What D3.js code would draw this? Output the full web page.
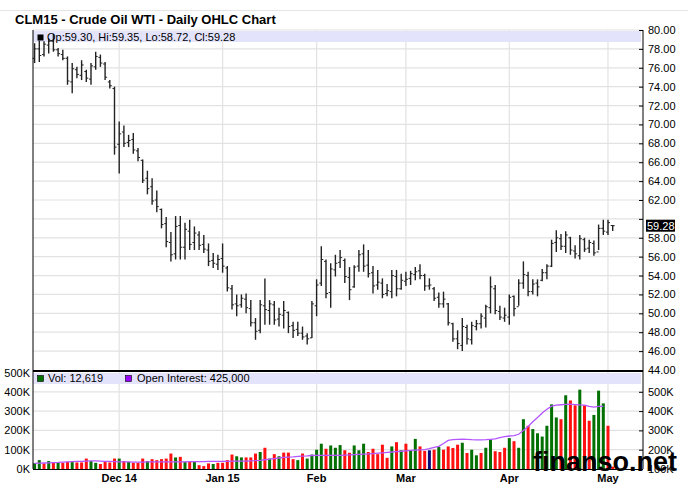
<!DOCTYPE html>
<html>
<head>
<meta charset="utf-8">
<script src="https://d3js.org/d3.v7.min.js"></script>
<style>
  body { margin: 0; background: #fff; }
  text { font-family: "Liberation Sans", Arial, sans-serif; }
</style>
</head>
<body>
<div id="graph"></div>
<script>

// daily bars, index 0 = 4 Nov 2014 ... index 123 = 4 May 2015
var opens = [
  77.0,78.0,77.4,78.4,78.8,77.9,77.4,77.0,74.5,75.8,
  75.2,75.6,74.8,76.1,77.1,76.4,74.5,73.8,67.9,69.2,
  68.1,68.4,67.2,66.2,64.3,63.4,62.0,61.0,59.5,57.5,
  56.3,59.3,57.0,58.7,57.5,58.3,57.3,56.7,55.6,55.2,
  55.8,54.8,52.6,51.0,50.9,51.5,50.5,49.0,48.2,50.8,
  50.3,50.9,49.4,49.8,50.1,48.7,48.3,47.9,47.6,47.4,
  50.8,53.2,55.5,52.2,54.6,55.4,55.6,53.8,52.8,55.0,
  56.3,55.1,54.3,53.0,53.2,52.1,52.3,53.9,52.6,53.4,
  53.7,54.1,54.5,54.0,52.9,52.6,51.7,51.0,51.0,48.9,
  47.3,46.6,48.5,47.2,48.6,48.9,49.5,50.6,52.6,50.2,
  49.5,49.6,51.8,50.7,53.2,54.0,52.3,53.2,53.5,54.3,
  55.0,57.5,57.9,57.1,58.0,56.6,56.1,57.8,56.9,57.4,
  56.5,59.0,58.6,59.30];
var highs = [
  78.6,78.9,78.8,79.1,79.6,78.1,77.9,77.2,76.5,76.1,
  76.8,75.8,76.5,77.7,77.4,76.6,74.7,74.0,70.3,69.9,
  68.9,69.1,67.5,66.3,65.1,64.3,63.0,61.1,60.2,58.6,
  60.3,60.3,59.6,59.9,59.2,58.7,58.3,57.4,56.4,56.2,
  57.4,55.0,53.0,52.0,52.0,52.1,51.4,49.5,51.4,53.7,
  51.4,51.3,50.6,51.3,50.2,49.1,49.1,48.6,47.9,51.3,
  53.6,57.1,55.7,55.3,56.2,56.7,55.8,54.9,55.1,56.7,
  57.3,56.7,55.0,54.6,53.7,53.1,54.6,54.6,54.2,54.4,
  54.5,54.9,55.2,54.2,53.7,52.8,52.2,52.3,51.1,49.0,
  48.2,49.5,48.8,49.1,49.3,50.0,50.9,53.9,53.0,50.8,
  50.6,52.0,51.9,53.6,55.5,54.4,53.6,53.6,54.7,55.2,
  57.8,58.8,58.4,58.7,58.1,57.2,58.3,58.0,57.8,57.7,
  59.4,59.9,59.9,59.35];
var lows = [
  76.5,76.6,77.2,77.5,77.7,77.2,76.8,74.2,73.3,74.9,
  74.7,74.5,74.2,75.8,76.1,74.7,73.8,66.8,64.8,67.6,
  67.6,66.9,66.1,63.8,62.6,61.5,60.7,59.0,57.0,55.5,
  55.7,55.7,55.7,56.7,56.7,56.7,56.4,55.0,54.8,54.6,
  54.3,52.3,50.4,49.7,50.6,50.0,48.6,47.2,47.9,48.8,
  48.8,48.8,48.6,48.4,47.9,47.4,47.6,47.2,46.7,47.4,
  49.7,52.9,51.6,50.6,53.9,54.8,53.2,51.4,52.7,54.4,
  54.4,53.8,52.1,52.5,51.6,51.8,51.6,51.8,52.5,52.9,
  53.0,53.5,53.6,52.4,52.5,51.3,50.6,50.6,48.7,47.0,
  46.2,46.0,46.7,46.7,48.2,48.4,48.5,50.0,49.9,49.3,
  49.1,48.8,49.7,50.8,52.6,51.8,52.0,51.8,53.4,53.6,
  54.9,56.5,56.7,56.4,56.2,55.8,55.7,56.5,56.4,56.1,
  56.7,58.3,58.3,58.72];
var closes = [
  78.0,77.3,78.5,78.8,77.9,77.5,77.0,74.6,75.9,75.3,
  76.3,74.9,76.2,77.2,76.5,75.0,74.1,67.6,69.0,68.0,
  68.3,67.3,66.5,64.1,63.2,61.9,61.3,59.4,57.6,56.2,
  59.2,57.0,58.9,57.3,58.5,57.2,56.8,55.5,55.3,55.7,
  55.0,52.7,50.9,50.8,51.6,50.6,49.0,48.1,50.9,50.4,
  51.0,49.3,49.9,50.3,48.6,48.2,47.9,47.5,47.3,51.0,
  53.0,55.7,52.1,54.7,55.3,55.9,53.9,52.5,54.9,56.2,
  55.0,54.2,52.9,53.3,52.0,52.4,54.0,52.6,53.5,53.6,
  54.2,54.4,54.0,52.9,53.0,51.6,51.0,51.5,49.0,47.3,
  46.8,48.6,47.3,48.7,48.9,49.7,50.7,52.8,50.3,49.6,
  49.8,51.7,50.5,53.2,54.1,52.3,53.1,52.8,54.3,55.0,
  57.4,58.0,57.1,58.3,56.7,56.3,57.9,56.8,57.5,56.4,
  59.0,58.7,59.6,59.28];

// volume in thousands, with its direction (u = up, d = down, n = unchanged)
var volumes = [
  30,46,29,41,34,32,32,37,36,34,
  34,54,41,32,26,37,34,54,54,41,
  37,32,32,54,41,51,46,51,54,80,
  60,63,37,41,37,20,15,29,26,32,
  32,46,75,66,60,60,60,80,88,110,
  54,77,66,85,85,51,46,80,54,75,
  100,131,105,122,110,124,97,84,122,97,
  131,88,105,77,126,58,117,139,97,131,
  97,156,117,94,97,100,114,100,117,109,
  126,136,83,100,71,83,110,153,92,88,
  110,160,144,110,258,224,207,185,168,224,
  335,267,258,382,355,330,411,330,250,280,
  406,340,224,12.619];
var volDir = [
  "u","u","d","u","d","u","d","d","u","d",
  "d","d","u","u","d","d","d","d","u","d",
  "u","d","d","d","u","d","d","d","d","d",
  "u","d","u","d","u","d","d","d","u","d",
  "d","d","d","u","u","d","d","d","u","d",
  "u","d","u","d","d","d","u","d","u","u",
  "u","u","d","u","u","u","d","d","u","u",
  "u","d","d","d","d","d","u","d","u","d",
  "u","u","d","d","n","d","u","d","d","d",
  "d","u","d","u","u","d","u","u","d","d",
  "d","u","d","u","u","d","u","u","u","u",
  "u","u","d","u","d","d","u","d","d","u",
  "u","u","d","d"];

// open interest in thousands (index 0 .. 121)
var openInterest = [
  129,130,131,132,133,134,136,137,138,139,140,
  141,142,142,141,140,139,138,
  137,137,137,136,136,136,137,137,137,137,137,137,137,
  137,137,138,138,138,138,139,139,140,140,140,141,141,141,141,
  142,143,145,148,151,154,157,160,162,163,
  165,167,168,170,171,171,171,171,171,171,
  172,173,175,176,177,178,180,182,184,186,188,190,192,194,
  196,198,199,200,205,212,217,232,248,
  252,254,255,254,252,251,251,252,254,256,262,268,
  271,273,280,299,320,345,367,390,410,426,
  431,433,435,436,434,432,431,425,421,424,425];

var monthLabels = ["Dec 14", "Jan 15", "Feb", "Mar", "Apr", "May"];
var holidays = ["2014-11-27", "2014-12-25", "2015-01-01", "2015-01-19", "2015-02-16", "2015-04-03"];
var priceTicks = [44,46,48,50,52,54,56,58,60,62,64,66,68,70,72,74,76,78,80];
var volTicks = [0,100,200,300,400,500];
var oiTicks = [100,200,300,400,500];

// trading days
var fmtDay = d3.timeFormat("%Y-%m-%d");
var days = d3.timeDay.range(new Date(2014, 10, 4), new Date(2015, 4, 5)).filter(function(d) {
  var w = d.getDay();
  return w > 0 && w < 6 && holidays.indexOf(fmtDay(d)) < 0;
});
var monthStarts = [];
days.forEach(function(d, i) {
  if (i > 0 && d.getMonth() != days[i-1].getMonth()) monthStarts.push(i);
});

var W = 688, H = 491;
var left = 33, right = 643;
var pTop = 30, pBot = 370, vTop = 372, vBot = 469;

var svg = d3.select("#graph")
  .append("svg")
    .attr("width", W)
    .attr("height", H);

var x = d3.scaleLinear().domain([0, 123]).range([34.6, 612.7]);
var y = d3.scaleLinear().domain([44, 80]).range([pBot, pTop]);
var yv = d3.scaleLinear().domain([0, 500]).range([vBot, vBot - 96.5]);
var yo = d3.scaleLinear().domain([100, 500]).range([vBot, vBot - 77.2]);

var last = highs.length - 1;
var f2 = d3.format(".2f");
var yl = y(closes[last]);

// title
svg.append("line").attr("x1", 0).attr("x2", W).attr("y1", 10.5).attr("y2", 10.5)
  .style("stroke", "#e4e4e4");
svg.append("text")
  .attr("x", 15).attr("y", 24)
  .attr("font-size", "13px").attr("font-weight", "bold")
  .text("CLM15 - Crude Oil WTI - Daily OHLC Chart");

// grid
var grid = svg.append("g").style("stroke", "#e2e2e2").style("stroke-width", 1.2);
grid.selectAll(".hp").data(priceTicks.slice(1)).enter().append("line")
  .attr("x1", left).attr("x2", right)
  .attr("y1", function(d) { return y(d); }).attr("y2", function(d) { return y(d); });
grid.selectAll(".hv").data([100,200,300,400]).enter().append("line")
  .attr("x1", left).attr("x2", right)
  .attr("y1", function(d) { return yv(d); }).attr("y2", function(d) { return yv(d); });
grid.selectAll(".vm").data(monthStarts).enter().append("line")
  .attr("x1", function(i) { return x(i); }).attr("x2", function(i) { return x(i); })
  .attr("y1", pTop).attr("y2", vBot);

// legend bands
svg.append("rect").attr("x", left).attr("y", pTop + 1).attr("width", right - left - 2).attr("height", 11)
  .style("fill", "#e3e3fb");
svg.append("rect").attr("x", left).attr("y", vTop + 1).attr("width", right - left - 2).attr("height", 11)
  .style("fill", "#e3e3fb");

// volume bars
svg.append("g").selectAll("rect").data(volumes).enter().append("rect")
  .attr("x", function(d, i) { return x(i) - 1.5; })
  .attr("width", 3)
  .attr("y", function(d) { return yv(d); })
  .attr("height", function(d) { return vBot - yv(d); })
  .style("fill", function(d, i) {
    return volDir[i] == "u" ? "#037003" : volDir[i] == "d" ? "#ff1111" : "#0b0b7a";
  });

// open interest
svg.append("path").datum(openInterest)
  .attr("d", d3.line().x(function(d, i) { return x(i); }).y(function(d) { return yo(d); }))
  .style("fill", "none").style("stroke", "#b455ff").style("stroke-width", 1.3);

// OHLC bars
var bars = svg.append("g").style("stroke", "#222").style("stroke-width", 1.4);
highs.forEach(function(h, i) {
  var cx = x(i);
  bars.append("line").attr("x1", cx).attr("x2", cx).attr("y1", y(h)).attr("y2", y(lows[i]));
  bars.append("line").attr("x1", cx - 2).attr("x2", cx).attr("y1", y(opens[i])).attr("y2", y(opens[i]))
    .style("stroke-width", 1);
  bars.append("line").attr("x1", cx).attr("x2", cx + 2).attr("y1", y(closes[i])).attr("y2", y(closes[i]))
    .style("stroke-width", 1);
});

// legend texts
svg.append("rect").attr("x", 37.5).attr("y", 34.5).attr("width", 6).attr("height", 6).style("fill", "#000");
svg.append("text").attr("x", 47).attr("y", 40.5).attr("font-size", "11px")
  .text("Op:" + f2(opens[last]) + ", Hi:" + f2(highs[last]) + ", Lo:" + f2(lows[last]) + ", Cl:" + f2(closes[last]));
svg.append("rect").attr("x", 37.5).attr("y", vTop + 3.5).attr("width", 6).attr("height", 6)
  .style("fill", "#037003").style("stroke", "#000").style("stroke-width", 0.6);
svg.append("text").attr("x", 48).attr("y", vTop + 10).attr("font-size", "11px")
  .text("Vol: " + d3.format(",")(Math.round(volumes[last] * 1000)));
svg.append("rect").attr("x", 125.5).attr("y", vTop + 3.5).attr("width", 6).attr("height", 6)
  .style("fill", "#9900ff").style("stroke", "#000").style("stroke-width", 0.6);
svg.append("text").attr("x", 137).attr("y", vTop + 10).attr("font-size", "11px")
  .text("Open Interest: " + d3.format(",")(openInterest[openInterest.length - 1] * 1000));

// frame
var frame = svg.append("g").style("stroke", "#000");
frame.append("line").attr("x1", left).attr("x2", left).attr("y1", pTop).attr("y2", vBot);
frame.append("line").attr("x1", right).attr("x2", right).attr("y1", pTop).attr("y2", vBot);
frame.append("line").attr("x1", left).attr("x2", right).attr("y1", vBot + 0.5).attr("y2", vBot + 0.5);
frame.append("line").attr("x1", left).attr("x2", right).attr("y1", pBot + 1).attr("y2", pBot + 1)
  .style("stroke-width", 2);

// right price axis (the label hidden by the last-price marker is left out)
svg.append("g")
  .attr("transform", "translate(" + right + ",0)")
  .call(d3.axisRight(y).tickValues(priceTicks)
    .tickFormat(function(d) { return Math.abs(y(d) - yl) < 9 ? "" : f2(d); })
    .tickSizeInner(-4).tickSizeOuter(0).tickPadding(5))
  .call(function(g) { g.select(".domain").remove(); })
  .call(function(g) { g.selectAll("text").attr("font-size", "11px").attr("font-family", "Liberation Sans, Arial").attr("fill", "#000"); });

// right open interest axis
svg.append("g")
  .attr("transform", "translate(" + right + ",0)")
  .call(d3.axisRight(yo).tickValues(oiTicks).tickFormat(function(d) { return d + "K"; }).tickSizeInner(-4).tickSizeOuter(0).tickPadding(5))
  .call(function(g) { g.select(".domain").remove(); })
  .call(function(g) { g.selectAll("text").attr("font-size", "11px").attr("font-family", "Liberation Sans, Arial").attr("fill", "#000"); });

// left volume axis
svg.append("g")
  .attr("transform", "translate(" + left + ",0)")
  .call(d3.axisLeft(yv).tickValues(volTicks).tickFormat(function(d) { return d + "K"; }).tickSize(0).tickPadding(3))
  .call(function(g) { g.select(".domain").remove(); })
  .call(function(g) { g.selectAll("text").attr("font-size", "11px").attr("font-family", "Liberation Sans, Arial").attr("fill", "#000"); });

// last price marker
svg.append("rect").attr("x", 646).attr("y", yl - 6).attr("width", 29).attr("height", 12).style("fill", "#000");
svg.append("text").attr("x", 647).attr("y", yl + 4).attr("font-size", "11px").style("fill", "#fff")
  .text(f2(closes[last]));

// month labels
svg.append("g").selectAll("text").data(monthStarts).enter().append("text")
  .attr("x", function(i) { return x(i); })
  .attr("y", 482)
  .attr("font-size", "11px").attr("font-weight", "bold")
  .style("text-anchor", "middle")
  .text(function(d, k) { return monthLabels[k]; });

// watermark
svg.append("text")
  .attr("x", 533).attr("y", 471)
  .attr("font-size", "27px").attr("font-weight", "bold")
  .text("finanso.net");

</script>
</body>
</html>
